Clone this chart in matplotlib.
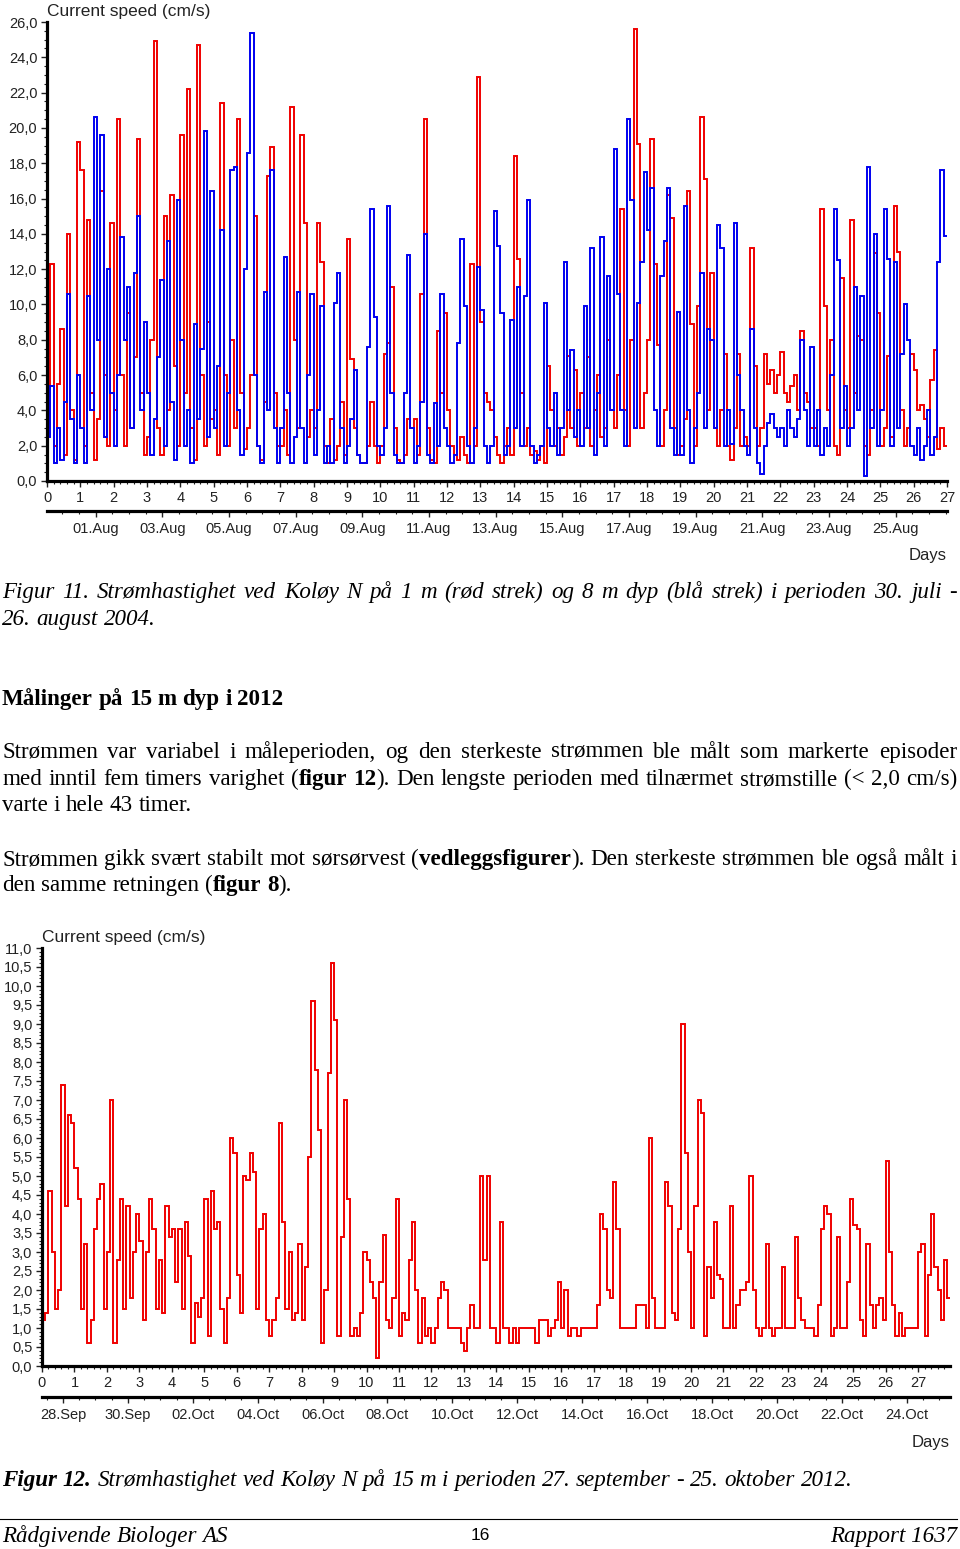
import datetime as dt
import numpy as np
import matplotlib
matplotlib.use("Agg")
import matplotlib.pyplot as plt
from matplotlib.lines import Line2D
from matplotlib.ticker import MultipleLocator, FixedLocator, FuncFormatter

W, H = 960, 1549

# current speed (cm/s), one value per 0.1 day
# Figur 11 (2004): 1 m = red, 8 m = blue
red_2004 = [
    3.0, 12.3, 2.0, 5.5, 8.6, 1.5, 14.0, 4.0, 1.2, 19.2,
    17.6, 2.0, 14.8, 5.0, 1.2, 3.5, 16.4, 6.0, 2.0, 14.6,
    4.0, 20.5, 6.0, 2.0, 9.5, 3.0, 7.0, 19.4, 5.0, 1.5,
    2.5, 8.0, 24.9, 3.0, 1.5, 15.0, 4.0, 16.2, 6.5, 2.0,
    19.6, 5.0, 22.2, 3.0, 1.2, 24.7, 6.0, 2.0, 9.0, 3.5,
    4.0, 1.5, 21.4, 6.0, 2.0, 8.0, 3.0, 20.5, 5.0, 1.8,
    3.0, 6.0, 15.0, 2.0, 1.2, 4.5, 17.3, 18.9, 5.0, 2.0,
    2.0, 4.0, 1.5, 21.2, 8.0, 3.0, 19.6, 14.6, 2.5, 4.0,
    3.0, 14.6, 12.4, 2.0, 1.0, 3.5, 1.2, 2.0, 4.5, 1.5,
    13.7, 6.9, 3.0, 1.5, 1.0, 1.0, 2.0, 4.5, 2.0, 1.0,
    2.0, 7.2, 7.8, 11.0, 3.0, 1.2, 1.0, 1.5, 3.5, 3.0,
    3.5, 1.5, 10.6, 20.5, 3.0, 1.2, 1.0, 8.5, 5.0, 9.5,
    4.0, 2.0, 1.5, 1.2, 2.5, 1.5, 1.0, 12.3, 2.0, 22.9,
    9.0, 5.0, 4.5, 4.0, 2.5, 1.5, 1.0, 2.0, 3.0, 1.5,
    18.4, 12.6, 5.0, 2.0, 3.0, 1.5, 1.7, 1.2, 2.0, 1.0,
    6.5, 4.0, 2.0, 3.0, 1.5, 2.5, 7.1, 3.0, 6.3, 2.0,
    5.0, 3.0, 7.0, 2.0, 4.0, 6.0, 2.5, 3.0, 8.0, 4.0,
    3.0, 6.0, 15.4, 4.0, 2.0, 8.0, 25.6, 19.1, 3.0, 5.0,
    8.0, 19.4, 12.3, 7.7, 2.0, 4.0, 16.2, 14.9, 3.0, 1.5,
    2.0, 3.5, 16.4, 8.9, 2.0, 9.9, 20.6, 17.1, 4.0, 11.8,
    3.0, 2.0, 4.0, 7.2, 2.0, 1.2, 3.0, 7.2, 2.0, 2.5,
    2.0, 13.2, 6.5, 2.0, 3.0, 7.2, 5.5, 6.3, 5.0, 6.0,
    7.3, 5.0, 4.5, 5.4, 6.0, 4.0, 8.5, 5.0, 4.5, 3.0,
    3.0, 2.0, 15.4, 9.9, 4.0, 8.0, 2.0, 1.5, 11.5, 4.0,
    3.0, 14.8, 5.0, 8.2, 8.0, 2.0, 1.5, 4.0, 12.9, 9.5,
    2.0, 3.0, 7.1, 2.5, 15.6, 13.0, 4.0, 2.0, 3.0, 7.2,
    6.3, 4.0, 4.3, 3.5, 2.5, 5.7, 7.4, 1.8, 3.0, 2.0,
]
blue_2004 = [
    2.5, 5.4, 1.0, 3.0, 1.2, 4.5, 10.6, 3.5, 1.0, 6.0,
    3.0, 1.0, 10.5, 4.0, 20.6, 8.0, 19.6, 2.5, 12.0, 5.0,
    2.0, 6.0, 13.8, 8.0, 11.0, 3.0, 11.8, 15.0, 4.0, 9.0,
    5.0, 1.5, 3.5, 7.0, 11.4, 2.0, 13.6, 4.5, 1.2, 15.9,
    8.0, 2.0, 4.0, 1.0, 8.9, 3.5, 7.5, 19.8, 2.5, 16.4,
    3.0, 6.5, 14.2, 2.0, 5.0, 17.6, 17.8, 4.0, 1.5, 12.0,
    18.6, 25.4, 6.0, 2.0, 1.0, 10.7, 4.0, 17.6, 3.0, 1.0,
    3.0, 12.7, 5.0, 1.0, 2.5, 10.7, 3.0, 1.0, 6.0, 10.6,
    1.5, 4.0, 9.9, 1.0, 2.0, 1.0, 10.1, 11.8, 3.0, 1.0,
    2.0, 3.5, 6.3, 1.5, 1.0, 1.0, 7.6, 15.4, 9.3, 2.0,
    1.5, 3.0, 15.6, 5.0, 1.5, 1.0, 1.0, 5.0, 12.8, 3.0,
    1.0, 2.0, 4.5, 14.0, 1.5, 1.0, 4.4, 2.0, 10.6, 3.0,
    2.0, 1.0, 1.5, 7.8, 13.7, 9.9, 2.0, 1.0, 3.0, 12.1,
    9.7, 2.0, 1.0, 2.0, 15.3, 13.3, 9.5, 1.5, 2.0, 9.1,
    3.0, 11.0, 2.0, 10.5, 15.9, 2.0, 1.0, 1.5, 2.0, 10.1,
    3.0, 2.0, 5.0, 1.5, 3.0, 12.4, 4.0, 7.4, 2.5, 4.0,
    2.0, 9.9, 3.0, 13.2, 1.5, 5.0, 13.8, 2.0, 11.6, 4.0,
    18.8, 10.6, 4.0, 2.0, 20.5, 15.9, 3.0, 10.1, 12.4, 17.5,
    14.2, 16.6, 4.0, 2.0, 11.6, 13.6, 16.6, 3.0, 1.5, 9.6,
    1.5, 15.6, 4.0, 1.0, 3.0, 5.0, 11.8, 3.0, 8.6, 8.0,
    3.0, 14.5, 13.2, 2.0, 4.0, 2.1, 14.6, 6.0, 4.0, 2.0,
    1.5, 8.6, 3.0, 1.0, 0.4, 2.0, 3.3, 3.8, 3.0, 2.5,
    3.0, 2.0, 4.0, 3.0, 2.5, 3.5, 8.0, 4.0, 2.0, 7.6,
    2.0, 4.0, 1.5, 3.0, 2.0, 6.0, 15.4, 12.5, 3.0, 5.4,
    2.0, 3.0, 11.0, 4.0, 10.5, 0.3, 17.8, 3.0, 14.0, 2.0,
    4.0, 15.4, 12.6, 2.0, 12.4, 3.0, 7.2, 10.0, 8.0, 2.0,
    1.5, 3.0, 1.2, 2.0, 4.0, 1.5, 2.5, 12.4, 17.6, 13.9,
]
start_2004 = dt.datetime(2004, 7, 30, 13, 0)
dates_2004 = ["01.Aug", "03.Aug", "05.Aug", "07.Aug", "09.Aug", "11.Aug", "13.Aug",
              "15.Aug", "17.Aug", "19.Aug", "21.Aug", "23.Aug", "25.Aug"]
first_2004 = dt.datetime(2004, 8, 1)

# Figur 12 (2012): 15 m
red_2012 = [
    1.2, 1.4, 4.6, 3.0, 1.5, 2.0, 7.4, 4.2, 6.6, 6.4,
    5.2, 4.4, 1.5, 3.2, 0.6, 1.2, 3.6, 4.4, 4.8, 1.5,
    3.0, 7.0, 0.6, 2.8, 4.4, 1.5, 4.2, 1.8, 3.0, 4.0,
    3.3, 1.2, 3.0, 4.4, 3.6, 1.5, 2.8, 1.4, 4.2, 3.4,
    3.6, 2.2, 3.6, 1.5, 3.8, 2.9, 0.6, 1.65, 1.3, 1.8,
    4.4, 0.8, 4.6, 3.6, 3.8, 1.5, 0.6, 1.8, 6.0, 5.6,
    2.4, 1.4, 5.0, 4.9, 5.6, 5.1, 1.5, 3.6, 4.0, 1.2,
    0.8, 1.2, 1.8, 6.4, 3.8, 1.5, 3.0, 1.2, 1.4, 3.2,
    1.2, 2.6, 5.5, 9.6, 7.8, 6.2, 0.6, 2.0, 7.7, 10.6,
    9.1, 0.8, 3.4, 7.0, 4.4, 0.8, 1.0, 0.8, 1.4, 3.0,
    2.8, 2.2, 1.8, 0.2, 2.2, 3.45, 1.2, 1.0, 1.8, 4.4,
    0.8, 1.4, 1.2, 2.8, 3.8, 2.0, 0.6, 1.8, 0.8, 1.0,
    0.6, 1.0, 1.8, 2.2, 2.0, 1.0, 1.0, 1.0, 1.0, 0.6,
    0.4, 1.0, 1.6, 1.0, 1.0, 5.0, 2.8, 5.0, 1.0, 1.0,
    0.6, 3.8, 1.0, 1.0, 0.6, 1.0, 0.6, 1.0, 1.0, 1.0,
    1.0, 1.0, 0.6, 1.2, 1.2, 1.2, 0.8, 1.0, 1.2, 2.2,
    1.0, 2.0, 0.8, 1.0, 1.0, 0.8, 1.0, 1.0, 1.0, 1.0,
    1.0, 1.6, 4.0, 3.6, 2.0, 1.8, 4.85, 3.6, 1.0, 1.0,
    1.0, 1.0, 1.0, 1.6, 1.6, 1.6, 1.0, 6.0, 1.8, 1.0,
    1.0, 1.0, 4.85, 4.2, 1.4, 1.2, 3.6, 9.0, 5.6, 3.0,
    1.0, 4.2, 7.0, 6.65, 0.8, 2.6, 1.8, 3.8, 2.4, 2.3,
    1.0, 1.0, 4.2, 1.0, 1.6, 2.0, 2.0, 2.2, 5.0, 2.0,
    1.0, 0.8, 1.0, 3.2, 1.0, 0.8, 1.0, 1.0, 2.6, 1.0,
    1.0, 1.0, 3.4, 1.8, 1.2, 1.0, 1.0, 1.0, 0.8, 1.6,
    3.6, 4.2, 4.0, 0.8, 1.0, 3.4, 1.0, 1.0, 2.2, 4.4,
    3.7, 3.6, 1.2, 0.8, 3.2, 1.6, 1.0, 1.6, 1.8, 1.2,
    5.4, 3.0, 1.6, 0.8, 1.4, 0.8, 1.0, 1.0, 1.0, 1.0,
    3.0, 3.2, 0.8, 2.4, 4.0, 2.6, 2.0, 1.2, 2.8, 1.8,
]
start_2012 = dt.datetime(2012, 9, 27, 8, 30)
dates_2012 = ["28.Sep", "30.Sep", "02.Oct", "04.Oct", "06.Oct", "08.Oct", "10.Oct",
              "12.Oct", "14.Oct", "16.Oct", "18.Oct", "20.Oct", "22.Oct", "24.Oct"]
first_2012 = dt.datetime(2012, 9, 28)

step = 0.1
RED = "#f00000"
BLUE = "#0000f0"
INK = "#222222"
SANS = "Liberation Sans"
SERIF = "Liberation Serif"

fig = plt.figure(figsize=(W / 100, H / 100), dpi=100)
renderer = fig.canvas.get_renderer()


def fx(x):
    return x / W


def fy(y):
    return 1 - y / H


comma = FuncFormatter(lambda v, _: f"{v:.1f}".replace(".", ","))


def chart(values_list, colors, start, first, labels, box, xmax, ymax, ymajor, yminor,
          date_y, days_y):
    x0, y0, x1, y1 = box  # pixel box: left, top, right, bottom
    ax = fig.add_axes([fx(x0), fy(y1), (x1 - x0) / W, (y1 - y0) / H])
    for vals, c in zip(values_list, colors):
        edges = np.arange(len(vals) + 1) * step
        ax.stairs(vals, edges, color=c, lw=1.4, baseline=None)
    ax.set_xlim(0, xmax)
    ax.set_ylim(0, ymax)
    for s in ("top", "right"):
        ax.spines[s].set_visible(False)
    for s in ("left", "bottom"):
        ax.spines[s].set_linewidth(2.3)
    ax.xaxis.set_major_locator(MultipleLocator(1))
    ax.xaxis.set_minor_locator(MultipleLocator(0.2))
    ax.yaxis.set_major_locator(MultipleLocator(ymajor))
    ax.yaxis.set_minor_locator(MultipleLocator(yminor))
    ax.yaxis.set_major_formatter(comma)
    ax.xaxis.set_major_formatter(FuncFormatter(lambda v, _: f"{int(round(v))}"))
    ax.tick_params(which="major", length=4, width=1, color=INK, labelsize=10.5,
                   labelcolor=INK, pad=3)
    ax.tick_params(which="minor", length=2, width=0.8, color=INK)
    for t in ax.get_xticklabels() + ax.get_yticklabels():
        t.set_family(SANS)

    # date axis below the day axis
    axd = fig.add_axes([fx(x0), fy(date_y), (x1 - x0) / W, 1e-5])
    axd.set_xlim(0, xmax)
    axd.set_yticks([])
    for s in ("top", "right", "left"):
        axd.spines[s].set_visible(False)
    axd.spines["bottom"].set_linewidth(2.3)
    off = (first - start).total_seconds() / 86400.0
    major = [off + 2 * i for i in range(len(labels))]
    minor = np.arange(off % 0.5, xmax + 1e-9, 0.5)
    axd.xaxis.set_major_locator(FixedLocator(major))
    axd.set_xticklabels(labels, family=SANS)
    axd.xaxis.set_minor_locator(FixedLocator(minor))
    axd.tick_params(which="major", length=4, width=1, color=INK, labelsize=10.5,
                    labelcolor=INK, pad=4)
    axd.tick_params(which="minor", length=2, width=0.8, color=INK)

    fig.text(fx(x0), fy(y0 - 6), "Current speed (cm/s)", family=SANS, size=12.5,
             color=INK, ha="left", va="baseline")
    fig.text(fx(x1), fy(days_y), "Days", family=SANS, size=12, color=INK,
             ha="right", va="baseline")
    return ax


chart([red_2004, blue_2004], [RED, BLUE], start_2004, first_2004, dates_2004,
      (47, 22, 947, 481), 27.0, 26.0, 2.0, 0.5, 511, 560)
chart([red_2012], [RED], start_2012, first_2012, dates_2012,
      (42, 948, 950, 1366), 27.98, 11.0, 0.5, 0.1, 1397, 1447)


# ---- page text
def parse(line):
    words, bold = [], False
    for w in line.split(" "):
        segs = []
        for i, p in enumerate(w.split("**")):
            if i > 0:
                bold = not bold
            if p:
                segs.append((p, bold))
        words.append(segs)
    return words


def width(s, **kw):
    t = fig.text(0, 0, s, **kw)
    w = t.get_window_extent(renderer).width
    t.remove()
    return w


def put_line(line, y, style="normal", size=16.6, justify=False, x0=2, x1=957):
    kw = dict(family=SERIF, size=size, style=style)
    words = parse(line)
    wid = [[width(s, weight="bold" if b else "normal", **kw) for s, b in segs]
           for segs in words]
    total = sum(sum(w) for w in wid)
    if justify and len(words) > 1:
        gap = (x1 - x0 - total) / (len(words) - 1)
    else:
        gap = width("a a", **kw) - width("aa", **kw)
    x = x0
    for segs, ws in zip(words, wid):
        for (s, b), w in zip(segs, ws):
            fig.text(fx(x), fy(y), s, weight="bold" if b else "normal",
                     ha="left", va="baseline", color="black", **kw)
            x += w
        x += gap


put_line("Figur 11. Strømhastighet ved Koløy N på 1 m (rød strek) og 8 m dyp "
         "(blå strek) i perioden 30. juli -", 598, style="italic", justify=True)
put_line("26. august 2004.", 625, style="italic")
put_line("**Målinger på 15 m dyp i 2012**", 705)
put_line("Strømmen var variabel i måleperioden, og den sterkeste strømmen ble målt "
         "som markerte episoder", 758, justify=True)
put_line("med inntil fem timers varighet (**figur 12**). Den lengste perioden med "
         "tilnærmet strømstille (< 2,0 cm/s)", 785, justify=True)
put_line("varte i hele 43 timer.", 811)
put_line("Strømmen gikk svært stabilt mot sørsørvest (**vedleggsfigurer**). Den "
         "sterkeste strømmen ble også målt i", 865, justify=True)
put_line("den samme retningen (**figur 8**).", 891)
put_line("**Figur 12.** Strømhastighet ved Koløy N på 15 m i perioden 27. september "
         "- 25. oktober 2012.", 1486, style="italic", size=16.6)

fig.add_artist(Line2D([0, fx(957)], [fy(1519), fy(1519)], color="black", lw=0.8))
put_line("Rådgivende Biologer AS", 1542, style="italic")
fig.text(fx(957), fy(1542), "Rapport 1637", family=SERIF, size=16.6, style="italic",
         ha="right", va="baseline")
fig.text(fx(480), fy(1540), "16", family=SANS, size=12.5, ha="center",
         va="baseline", color="black")

fig.savefig("out.png", dpi=100)
